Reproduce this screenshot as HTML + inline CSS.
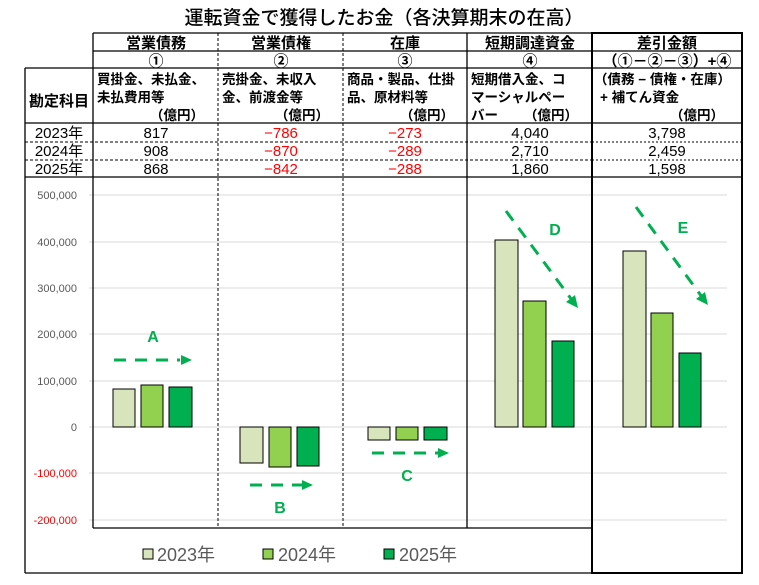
<!DOCTYPE html>
<html><head><meta charset="utf-8"><style>
body{margin:0;background:#fff}
svg text{font-family:"Liberation Sans","Noto Sans CJK JP",sans-serif}
.t{font-family:"Noto Sans CJK JP","Liberation Sans",sans-serif;font-weight:bold;font-size:13.5px;fill:#000}
.h{font-size:15px}
.n{font-family:"Liberation Sans",sans-serif;font-size:15px;fill:#000;text-anchor:middle}
.r{fill:#f00}
.ax{font-family:"Liberation Sans",sans-serif;font-size:11px;fill:#595959;text-anchor:end}
.lb{font-family:"Liberation Sans",sans-serif;font-weight:bold;font-size:16px;fill:#00b050;text-anchor:middle}
</style></head><body>
<svg width="759" height="580" viewBox="0 0 759 580" xmlns="http://www.w3.org/2000/svg">
<text x="384" y="24" text-anchor="middle" style="font-family:'Noto Sans CJK JP',sans-serif;font-size:19px;font-weight:500">運転資金で獲得したお金（各決算期末の在高）</text>
<g stroke="#d9d9d9" stroke-width="1">
<line x1="89" x2="727" y1="195" y2="195"/><line x1="89" x2="727" y1="242" y2="242"/>
<line x1="89" x2="727" y1="288" y2="288"/><line x1="89" x2="727" y1="334" y2="334"/>
<line x1="89" x2="727" y1="381" y2="381"/><line x1="89" x2="727" y1="427" y2="427"/>
<line x1="89" x2="727" y1="473" y2="473"/><line x1="89" x2="727" y1="520" y2="520"/>
</g>
<g class="ax">
<text x="77" y="199">500,000</text><text x="77" y="246">400,000</text><text x="77" y="292">300,000</text>
<text x="77" y="338">200,000</text><text x="77" y="385">100,000</text><text x="77" y="431">0</text>
<text x="77" y="477" style="fill:#f00">-100,000</text><text x="77" y="524" style="fill:#f00">-200,000</text>
</g>
<g stroke="#000" stroke-width="1.3" fill="none">
<line x1="93" x2="742" y1="33" y2="33"/>
<line x1="93" x2="742" y1="51" y2="51"/>
<line x1="25" x2="742" y1="68" y2="68"/>
<line x1="25" x2="742" y1="123" y2="123"/>
<line x1="25" x2="742" y1="177" y2="177"/>
<line x1="93" x2="93" y1="33" y2="528"/>
<line x1="25" x2="25" y1="68" y2="573"/>
<line x1="467" x2="467" y1="33" y2="528"/>
<line x1="25" x2="742" y1="573" y2="573"/>
<line x1="93" x2="592" y1="528" y2="528"/>
</g>
<g stroke="#000" stroke-width="1" stroke-dasharray="3,2">
<line x1="218" x2="218" y1="33" y2="528"/>
<line x1="343" x2="343" y1="33" y2="528"/>
<line x1="25" x2="592" y1="142" y2="142"/>
<line x1="25" x2="592" y1="160" y2="160"/>
</g>
<g stroke="#000" stroke-width="1" stroke-dasharray="2,2">
<line x1="592" x2="742" y1="142" y2="142"/>
<line x1="592" x2="742" y1="160" y2="160"/>
</g>
<rect x="592" y="33" width="150" height="540" fill="none" stroke="#000" stroke-width="2"/>
<g class="t h" text-anchor="middle">
<text x="156" y="48">営業債務</text><text x="281" y="48">営業債権</text><text x="405" y="48">在庫</text>
<text x="530" y="48">短期調達資金</text><text x="667" y="48">差引金額</text>
<text x="156" y="66">①</text><text x="281" y="66">②</text><text x="405" y="66">③</text><text x="530" y="66">④</text>
<text x="667" y="66">（①－②－③）+④</text>
<text x="59" y="106">勘定科目</text>
</g>
<g class="t">
<text x="97" y="84">買掛金、未払金、</text><text x="97" y="102">未払費用等</text><text x="204" y="120" text-anchor="end">（億円）</text>
<text x="222" y="84">売掛金、未収入</text><text x="222" y="102">金、前渡金等</text><text x="329" y="120" text-anchor="end">（億円）</text>
<text x="347" y="84">商品・製品、仕掛</text><text x="347" y="102">品、原材料等</text><text x="454" y="120" text-anchor="end">（億円）</text>
<text x="471" y="84">短期借入金、コ</text><text x="471" y="102">マーシャルペー</text><text x="471" y="120">バー</text><text x="578" y="120" text-anchor="end">（億円）</text>
<text x="594" y="84">（債務 − 債権・在庫）</text><text x="600" y="102">+ 補てん資金</text><text x="724" y="120" text-anchor="end">（億円）</text>
</g>
<g class="t" text-anchor="middle" style="font-weight:normal;font-size:15px">
<text x="59" y="138">2023年</text><text x="59" y="156">2024年</text><text x="59" y="174">2025年</text>
</g>
<g class="n">
<text x="156" y="138">817</text><text x="156" y="156">908</text><text x="156" y="174">868</text>
<text x="281" y="138" class="r">−786</text><text x="281" y="156" class="r">−870</text><text x="281" y="174" class="r">−842</text>
<text x="405" y="138" class="r">−273</text><text x="405" y="156" class="r">−289</text><text x="405" y="174" class="r">−288</text>
<text x="530" y="138">4,040</text><text x="530" y="156">2,710</text><text x="530" y="174">1,860</text>
<text x="667" y="138">3,798</text><text x="667" y="156">2,459</text><text x="667" y="174">1,598</text>
</g>
<g stroke="#000" stroke-width="1">
<rect x="113" y="389" width="22" height="38" fill="#d8e4bc"/><rect x="141" y="385" width="22" height="42" fill="#92d050"/><rect x="169" y="387" width="23" height="40" fill="#00b050"/>
<rect x="240" y="427" width="23" height="36" fill="#d8e4bc"/><rect x="269" y="427" width="22" height="40" fill="#92d050"/><rect x="297" y="427" width="22" height="39" fill="#00b050"/>
<rect x="368" y="427" width="22" height="13" fill="#d8e4bc"/><rect x="396" y="427" width="22" height="13" fill="#92d050"/><rect x="424" y="427" width="23" height="13" fill="#00b050"/>
<rect x="495" y="240" width="23" height="187" fill="#d8e4bc"/><rect x="523" y="301" width="23" height="126" fill="#92d050"/><rect x="552" y="341" width="22" height="86" fill="#00b050"/>
<rect x="623" y="251" width="23" height="176" fill="#d8e4bc"/><rect x="651" y="313" width="22" height="114" fill="#92d050"/><rect x="679" y="353" width="22" height="74" fill="#00b050"/>
</g>
<g stroke="#00b050" stroke-width="3" stroke-dasharray="12,9" fill="none">
<line x1="114" y1="360" x2="180" y2="360"/>
<line x1="250" y1="485" x2="302" y2="485"/>
<line x1="372" y1="453" x2="438" y2="453"/>
<line x1="506" y1="211" x2="572" y2="300"/>
<line x1="636" y1="207" x2="702" y2="297"/>
</g>
<g fill="#00b050">
<polygon points="192,360 181,355 181,365"/>
<polygon points="313,485 302,480 302,490"/>
<polygon points="449,453 438,448 438,458"/>
<polygon points="578,308 566,302 575,295"/>
<polygon points="708,305 696,299 705,292"/>
</g>
<g class="lb">
<text x="153" y="342">A</text><text x="280" y="513">B</text><text x="407" y="481">C</text>
<text x="555" y="235">D</text><text x="683" y="233">E</text>
</g>
<g stroke="#000" stroke-width="1">
<rect x="143" y="549" width="10" height="10" fill="#d8e4bc"/>
<rect x="263" y="549" width="10" height="10" fill="#92d050"/>
<rect x="384" y="549" width="10" height="10" fill="#00b050"/>
</g>
<g style="font-family:'Liberation Sans','Noto Sans CJK JP',sans-serif;font-size:18px;fill:#595959">
<text x="157" y="561">2023年</text><text x="278" y="561">2024年</text><text x="399" y="561">2025年</text>
</g>
</svg>
</body></html>
